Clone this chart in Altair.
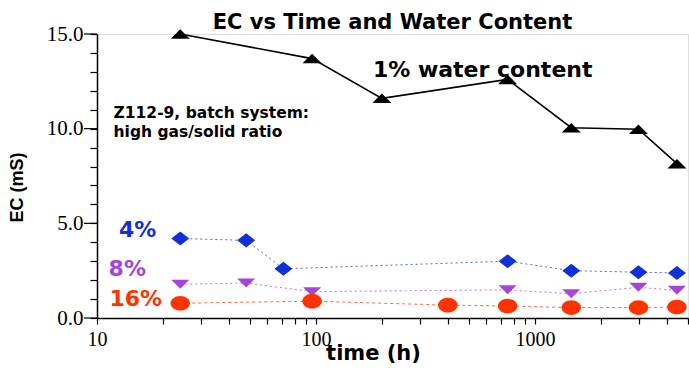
import altair as alt
import pandas as pd

# Measured EC (mS) versus elapsed time (h) for each water content
times_1 = [24, 96, 200, 750, 1465, 2970, 4450]
ec_1 = [15.0, 13.7, 11.6, 12.6, 10.05, 9.97, 8.15]

times_4 = [24, 48, 71, 750, 1465, 2970, 4450]
ec_4 = [4.2, 4.1, 2.6, 3.0, 2.5, 2.42, 2.38]

times_8 = [24, 48, 96, 750, 1465, 2970, 4450]
ec_8 = [1.78, 1.85, 1.39, 1.49, 1.28, 1.62, 1.46]

times_16 = [24, 96, 400, 750, 1465, 2970, 4450]
ec_16 = [0.78, 0.89, 0.68, 0.63, 0.55, 0.55, 0.58]

# Annotation texts and their anchor points in data units
note_texts = ["1% water content", "Z112-9, batch system:", "high gas/solid ratio", "4%", "8%", "16%"]
note_times = [182, 11.9, 11.9, 12.6, 11.3, 11.4]
note_ec = [12.75, 10.56, 9.57, 4.27, 2.21, 0.65]
note_colors = ["#000000", "#000000", "#000000", "#1030d8", "#a644dc", "#ff3300"]
note_sizes = [22, 15.5, 15.5, 22, 22, 22]

x_ticks = [10, 20, 30, 40, 50, 60, 70, 80, 90,
           100, 200, 300, 400, 500, 600, 700, 800, 900,
           1000, 2000, 3000, 4000, 5000]
y_ticks = list(range(0, 16))
y_major = [0, 5, 10, 15]

SANS = "DejaVu Sans"
SERIF = "Liberation Serif"

x_scale = alt.Scale(type="log", domain=[10, 5000], nice=False)
y_scale = alt.Scale(domain=[0, 15], nice=False, zero=False)

x_axis = alt.Axis(
    values=x_ticks,
    format="d",
    labelExpr="indexof([10, 100, 1000], datum.value) >= 0 ? datum.label : ''",
    labelOverlap=False, labelFlush=False,
    labelFont=SERIF, labelFontSize=20, labelColor="#000",
    labelBaseline="alphabetic", labelPadding=21,
    ticks=True, tickSize=6, tickColor="#000", tickWidth=1.2,
    domainColor="#000", domainWidth=1.5,
    grid=False,
    title="time (h)", titleFont=SANS, titleFontSize=21, titleFontWeight="bold",
    titleColor="#000", titleX=276, titleY=41, titleBaseline="alphabetic",
)

y_axis = alt.Axis(
    values=y_ticks,
    labelExpr="datum.value % 5 === 0 ? format(datum.value, '.1f') : ''",
    labelOverlap=False, labelFlush=False,
    labelFont=SERIF, labelFontSize=21, labelColor="#000", labelPadding=7,
    ticks=True, tickSize=7, tickColor="#000", tickWidth=1.2,
    domainColor="#000", domainWidth=1.5,
    grid=False,
    title="EC (mS)", titleFont="Liberation Sans", titleFontSize=18, titleFontWeight="bold",
    titleColor="#000", titleX=-71, titleY=153,
)

series = [
    ("1%", times_1, ec_1, "#000000", "M0,-0.5L1,0.5L-1,0.5Z", 361, None, 1.6),
    ("4%", times_4, ec_4, "#1030d8", "M-1,0L0,-0.78L1,0L0,0.78Z", 324, [2, 3], 1.0),
    ("8%", times_8, ec_8, "#a644dc", "M-1,-0.5L1,-0.5L0,0.5Z", 324, [2, 3], 1.0),
    ("16%", times_16, ec_16, "#ff3300",
     "M-1,0A1,0.75 0 1,1 1,0A1,0.75 0 1,1 -1,0Z", 380, [3, 3], 1.0),
]

line_layers = []
point_layers = []
for name, ts, vals, color, shape, size, dash, width in series:
    df = pd.DataFrame({"time": ts, "ec": vals, "series": name})
    base = alt.Chart(df).encode(
        x=alt.X("time:Q", scale=x_scale, axis=x_axis),
        y=alt.Y("ec:Q", scale=y_scale, axis=y_axis),
    )
    line_kwargs = dict(color=color, strokeWidth=width)
    if dash:
        line_kwargs["strokeDash"] = dash
        line_kwargs["opacity"] = 0.75
    line_layers.append(base.mark_line(**line_kwargs))
    point_layers.append(
        base.mark_point(shape=shape, size=size, filled=True, color=color, opacity=1, strokeWidth=0)
    )

# Longer ticks at the labelled EC values
major_ticks = alt.Chart(pd.DataFrame({"ec": y_major})).mark_rule(
    color="#000", strokeWidth=1.2, clip=False
).encode(
    y=alt.Y("ec:Q", scale=y_scale, axis=y_axis),
    x=alt.value(-13),
    x2=alt.value(0),
)

notes = pd.DataFrame({
    "label": note_texts, "time": note_times, "ec": note_ec,
    "color": note_colors, "size": note_sizes,
})
text_layer = alt.Chart(notes).mark_text(
    font=SANS, fontWeight="bold", align="left", baseline="alphabetic"
).encode(
    x=alt.X("time:Q", scale=x_scale, axis=x_axis),
    y=alt.Y("ec:Q", scale=y_scale, axis=y_axis),
    text="label:N",
    color=alt.Color("color:N", scale=None),
    size=alt.Size("size:Q", scale=None),
)

chart = alt.layer(*line_layers, *point_layers, major_ticks, text_layer).properties(
    width=591,
    height=284,
    autosize=alt.AutoSizeParams(type="none"),
    padding={"left": 97, "top": 34, "right": 1, "bottom": 53},
    title=alt.TitleParams(
        "EC vs Time and Water Content",
        font=SANS, fontSize=21, fontWeight="bold", color="#000",
        anchor="middle", offset=-10,
    ),
).configure_view(
    stroke="#707070", strokeWidth=2
).configure(background="white")

chart.save("out.html", embed_options={"renderer": "svg", "actions": False})
